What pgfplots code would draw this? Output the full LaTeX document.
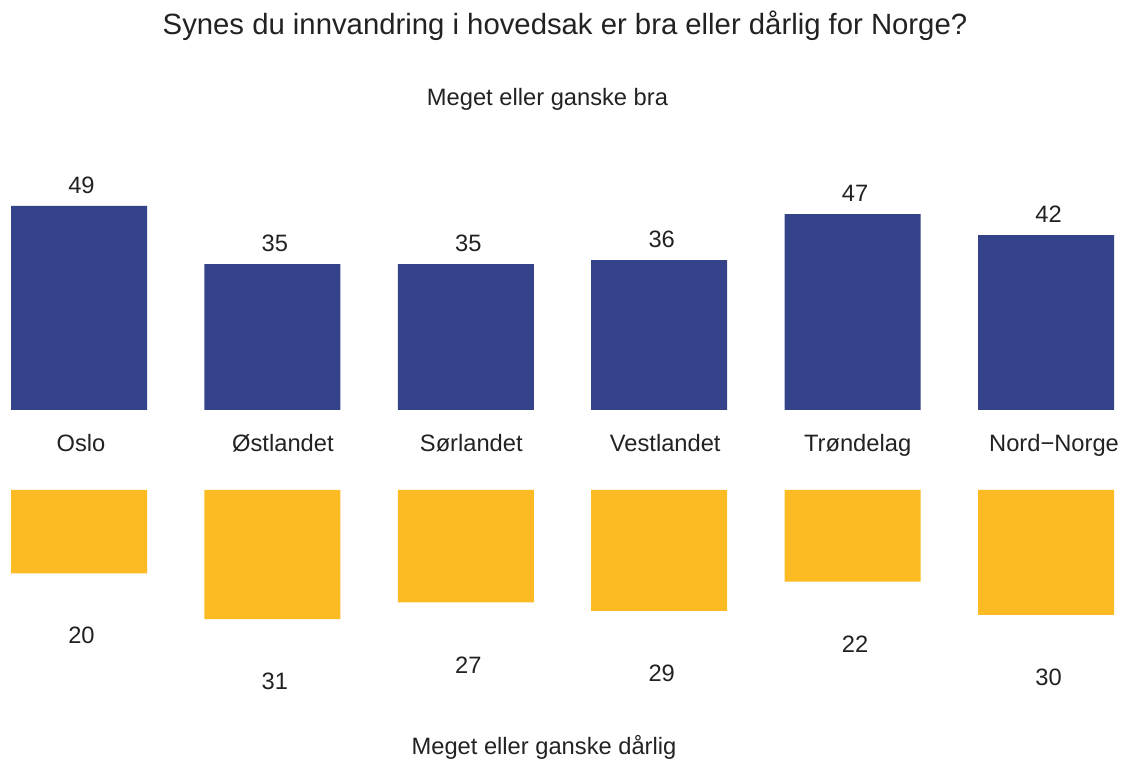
\documentclass[border=0pt]{standalone}
\usepackage{fontspec}
\setmainfont{Liberation Sans}
\usepackage{pgfplots}
\pgfplotsset{compat=1.18}

\definecolor{gode}{RGB}{52,67,137}
\definecolor{darlige}{RGB}{252,187,34}
\definecolor{tekst}{RGB}{34,34,34}

% values
\pgfplotstableread{
x bra
0 49
1 35
2 35
3 36
4 47
5 42
}\bradata
\pgfplotstableread{
x darlig
0 20
1 31
2 27
3 29
4 22
5 30
}\darligdata

\begin{document}
\begin{tikzpicture}[font=\fontsize{23.7}{28}\selectfont, text=tekst]
\useasboundingbox (0,0) rectangle (1126pt,760pt);

\pgfplotsset{
  felles/.style={
    scale only axis,
    width=1103pt,
    xmin=-0.3516, xmax=5.3516,
    ymin=0,
    ybar, bar width=136pt,
    hide y axis,
    axis x line*=bottom,
    x axis line style={draw=none},
    major tick length=0pt,
    clip=false,
    /pgf/number format/assume math mode=true,
    nodes near coords,
  },
}

\begin{axis}[felles,
    at={(11pt,350pt)}, anchor=south west,
    height=208.25pt, ymax=50,
    xtick={0,1,2,3,4,5},
    xticklabels={\hspace*{4pt}Oslo, \hspace*{21pt}Østlandet, \hspace*{11pt}Sørlandet,
                 \hspace*{12pt}Vestlandet, \hspace*{10pt}Trøndelag, \hspace*{16pt}Nord−Norge},
    xticklabel style={anchor=base, yshift=-42pt, inner sep=0pt},
    nodes near coords style={anchor=center, inner sep=0pt, xshift=2.5pt, yshift=20.5pt},
]
\addplot[fill=gode, draw=none] table[x=x, y=bra] {\bradata};
\end{axis}

\begin{axis}[felles,
    at={(11pt,270pt)}, anchor=north west,
    height=166.6pt, ymax=40,
    y dir=reverse,
    xtick=\empty,
    nodes near coords style={anchor=center, inner sep=0pt, xshift=2.5pt, yshift=-62.5pt},
]
\addplot[fill=darlige, draw=none] table[x=x, y=darlig] {\darligdata};
\end{axis}

\node[anchor=base, font=\fontsize{29.3}{34}\selectfont] at (565pt,725pt)
  {Synes du innvandring i hovedsak er bra eller dårlig for Norge?};
\node[anchor=base] at (547.5pt,654pt) {Meget eller ganske bra};
\node[anchor=base] at (544pt,6pt) {Meget eller ganske dårlig};
\end{tikzpicture}
\end{document}
